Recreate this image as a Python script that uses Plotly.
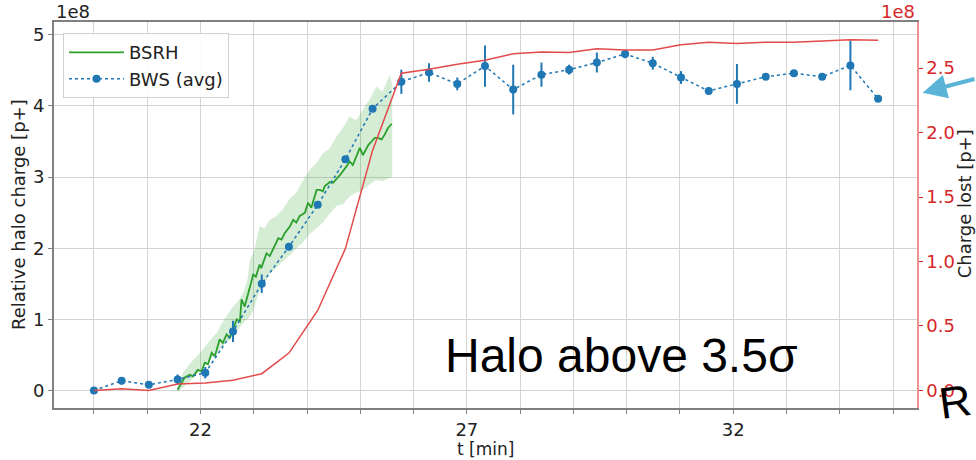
import plotly.graph_objects as go

# ---- data (values in units of 1e8 p+) ----
t_bws = [20.00, 20.52, 21.03, 21.57, 22.09, 22.61, 23.15, 23.66, 24.20, 24.72,
         25.23, 25.77, 26.29, 26.82, 27.34, 27.87, 28.40, 28.92, 29.44, 29.97,
         30.49, 31.02, 31.54, 32.07, 32.61, 33.14, 33.67, 34.20, 34.72]
bws_avg = [0.00, 0.136, 0.08, 0.155, 0.25, 0.83, 1.50, 2.02, 2.61, 3.25,
           3.96, 4.34, 4.47, 4.31, 4.56, 4.23, 4.44, 4.51, 4.61, 4.73,
           4.60, 4.40, 4.21, 4.31, 4.41, 4.46, 4.41, 4.57, 4.10]
bws_err = [0.02, 0.05, 0.03, 0.07, 0.08, 0.15, 0.13, 0.03, 0.03, 0.03,
           0.03, 0.17, 0.13, 0.09, 0.29, 0.35, 0.17, 0.07, 0.14, 0.06,
           0.09, 0.09, 0.03, 0.28, 0.04, 0.03, 0.03, 0.35, 0.02]
charge_lost = [0.0, 0.013, 0.0, 0.05, 0.057, 0.08, 0.13, 0.29, 0.62, 1.10,
               1.86, 2.46, 2.49, 2.53, 2.56, 2.61, 2.625, 2.62, 2.65, 2.64,
               2.64, 2.68, 2.70, 2.69, 2.70, 2.70, 2.71, 2.72, 2.715]

t_bsrh = [21.57, 21.64, 21.70, 21.80, 21.86, 21.95, 22.02, 22.08, 22.14, 22.21,
          22.27, 22.36, 22.42, 22.49, 22.55, 22.62, 22.68, 22.74, 22.77, 22.83,
          22.93, 22.99, 23.04, 23.11, 23.14, 23.24, 23.30, 23.36, 23.46, 23.52,
          23.58, 23.68, 23.74, 23.80, 23.86, 23.96, 24.02, 24.08, 24.18, 24.24,
          24.30, 24.33, 24.43, 24.49, 24.62, 24.74, 24.80, 24.86, 24.99, 25.05,
          25.15, 25.21, 25.27, 25.33, 25.40, 25.46, 25.52, 25.59]
bsrh = [0.01, 0.10, 0.18, 0.22, 0.20, 0.29, 0.27, 0.39, 0.37, 0.53,
        0.48, 0.72, 0.67, 0.79, 0.74, 0.88, 1.00, 0.97, 1.28, 1.18,
        1.45, 1.63, 1.60, 1.77, 1.72, 1.93, 1.89, 1.98, 2.14, 2.12,
        2.21, 2.31, 2.40, 2.36, 2.45, 2.50, 2.64, 2.57, 2.82, 2.82,
        2.80, 2.87, 2.93, 2.92, 3.03, 3.15, 3.22, 3.17, 3.41, 3.31,
        3.45, 3.50, 3.55, 3.55, 3.53, 3.60, 3.69, 3.75]

t_band = [21.57, 21.67, 21.83, 21.99, 22.15, 22.30, 22.45, 22.61, 22.70, 22.80,
          22.88, 22.93, 23.00, 23.11, 23.20, 23.30, 23.42, 23.55, 23.68, 23.80,
          23.92, 24.05, 24.18, 24.30, 24.42, 24.55, 24.68, 24.80, 24.92, 25.05,
          25.18, 25.30, 25.42, 25.55, 25.60]
band_hi = [0.05, 0.25, 0.40, 0.53, 0.68, 0.81, 1.00, 1.18, 1.25, 1.37,
           1.55, 1.84, 1.95, 2.31, 2.28, 2.40, 2.45, 2.55, 2.70, 2.78,
           2.95, 3.10, 3.20, 3.34, 3.40, 3.57, 3.70, 3.85, 3.80, 3.95,
           4.10, 4.27, 4.20, 4.44, 4.30]
band_lo = [-0.02, 0.04, 0.15, 0.27, 0.40, 0.53, 0.65, 0.76, 0.85, 0.95,
           1.00, 1.04, 1.15, 1.40, 1.50, 1.65, 1.72, 1.82, 1.90, 2.00,
           2.08, 2.20, 2.28, 2.36, 2.48, 2.59, 2.62, 2.73, 2.78, 2.82,
           2.90, 2.96, 2.94, 2.99, 3.00]

x_ticks = list(range(20, 36))
x_labels = ["22", "27", "32"]
y_left_ticks = [0, 1, 2, 3, 4, 5]
y_right_ticks = [0.0, 0.5, 1.0, 1.5, 2.0, 2.5]

GREEN = "#2ca02c"
BLUE = "#1f77b4"
RED = "#e34a4a"
RED_TXT = "#d62728"
GRID = "#d3d3d3"
SPINE = "#808080"
FONT = "DejaVu Sans"

fig = go.Figure()

fig.add_trace(go.Scatter(
    x=t_band + t_band[::-1], y=band_hi + band_lo[::-1],
    fill="toself", fillcolor="rgba(44,160,44,0.2)", line=dict(width=0),
    mode="lines", showlegend=False, hoverinfo="skip"))

fig.add_trace(go.Scatter(
    x=t_bsrh, y=bsrh, mode="lines", name="BSRH",
    line=dict(color=GREEN, width=1.8)))

fig.add_trace(go.Scatter(
    x=t_bws, y=bws_avg, mode="lines+markers", name="BWS (avg)",
    line=dict(color=BLUE, width=1.5, dash="dot"),
    marker=dict(color=BLUE, size=8),
    error_y=dict(type="data", array=bws_err, color=BLUE, thickness=2, width=0)))

fig.add_trace(go.Scatter(
    x=t_bws, y=charge_lost, mode="lines", yaxis="y2", showlegend=False,
    line=dict(color=RED, width=1.5)))

fig.update_layout(
    width=976, height=460,
    margin=dict(l=54, r=59, t=22, b=52),
    paper_bgcolor="white", plot_bgcolor="white",
    font=dict(family=FONT, size=18, color="#222222"),
    showlegend=True,
    legend=dict(x=0.0104, y=0.971, xanchor="left", yanchor="top",
                bgcolor="rgba(255,255,255,0.9)", bordercolor="#d0d0d0", borderwidth=1,
                font=dict(family=FONT, size=18, color="#222222"),
                itemwidth=55, tracegroupgap=0),
    xaxis=dict(range=[19.25, 35.45], tickvals=x_ticks,
               ticktext=[str(v) if str(v) in x_labels else "" for v in x_ticks],
               showgrid=True, gridcolor=GRID, gridwidth=1,
               showline=True, linecolor=SPINE, linewidth=2, mirror=True,
               ticks="outside", ticklen=4, tickcolor=SPINE, zeroline=False,
               tickfont=dict(size=18, color="#222222")),
    yaxis=dict(range=[-0.246, 5.18], tickvals=y_left_ticks,
               ticktext=[str(v) for v in y_left_ticks],
               showgrid=True, gridcolor=GRID, gridwidth=1,
               showline=True, linecolor=SPINE, linewidth=2,
               ticks="outside", ticklen=4, tickcolor=SPINE, zeroline=False,
               tickfont=dict(size=18, color="#222222")),
    yaxis2=dict(range=[-0.136, 2.857], overlaying="y", side="right",
                tickvals=y_right_ticks, ticktext=[f"{v:.1f}" for v in y_right_ticks],
                showgrid=False, zeroline=False,
                showline=True, linecolor="rgba(227,74,74,0.6)", linewidth=1.5,
                ticks="outside", ticklen=4, tickcolor=RED_TXT,
                tickfont=dict(size=18, color=RED_TXT)),
)

annotations = [
    dict(text="1e8", xref="paper", yref="paper", x=0.0, y=1.0, xanchor="left",
         yanchor="bottom", yshift=-2, showarrow=False,
         font=dict(family=FONT, size=18, color="#222222")),
    dict(text="1e8", xref="paper", yref="paper", x=1.0, y=1.0, xanchor="right",
         yanchor="bottom", yshift=-2, showarrow=False,
         font=dict(family=FONT, size=18, color=RED_TXT)),
    dict(text="Relative halo charge [p+]", xref="paper", yref="paper", x=0, y=0.5,
         xanchor="center", yanchor="middle", xshift=-36, textangle=-90, showarrow=False,
         font=dict(family=FONT, size=18, color="#222222")),
    dict(text="Charge lost [p+]", xref="paper", yref="paper", x=1.0555, y=0.53,
         xanchor="center", yanchor="middle", textangle=-90, showarrow=False,
         font=dict(family=FONT, size=18, color="#222222")),
    dict(text="t [min]", xref="paper", yref="paper", x=0.5, y=0,
         xanchor="center", yanchor="middle", yshift=-41, showarrow=False,
         font=dict(family=FONT, size=17, color="#222222")),
    dict(text="Halo above 3.5σ", xref="paper", yref="paper", x=0.658, y=0.137,
         xanchor="center", yanchor="middle", showarrow=False,
         font=dict(family="Liberation Sans", size=48, color="black")),
    dict(text="R", xref="paper", yref="paper", x=1.044, y=0.018,
         xanchor="center", yanchor="middle", textangle=-8, showarrow=False,
         font=dict(family="Liberation Sans", size=44, color="black")),
    dict(text="", xref="paper", yref="paper", x=1.0066, y=0.817,
         ax=70, ay=-14, showarrow=True, arrowhead=2, arrowsize=1.2,
         arrowwidth=4, arrowcolor="#5ab4d8"),
]
fig.update_layout(annotations=annotations)

fig.write_html("out.html")
